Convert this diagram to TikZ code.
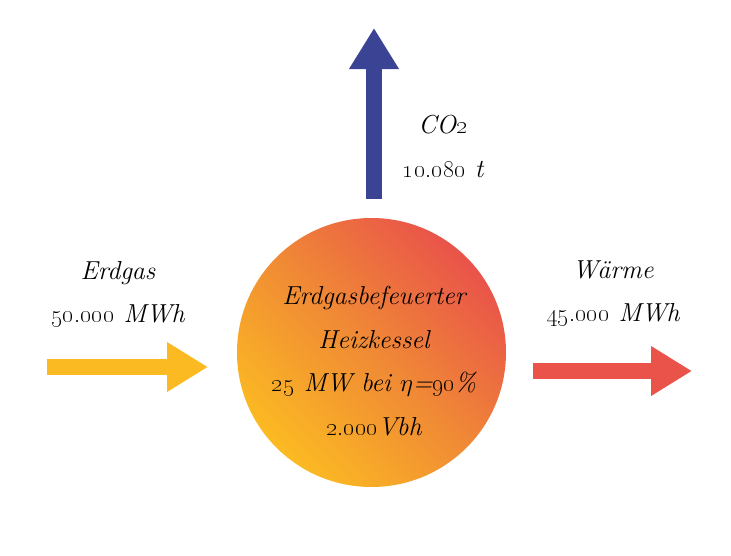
\documentclass[tikz,border=0pt]{standalone}
\usepackage{tikz}
\usepackage{amsmath}
\usepackage{xcolor}
\usetikzlibrary{arrows.meta}

\definecolor{gasyellow}{HTML}{FBBA22}
\definecolor{heatred}{HTML}{E9534A}
\definecolor{flameorange}{HTML}{F08A35}
\definecolor{co2blue}{HTML}{3B4395}

\tikzset{
  flowlabel/.style={align=center,inner sep=0pt,font=\itshape\fontsize{26}{43.5}\selectfont},
  flowarrow/.style={line width=16.5pt,-{Triangle[length=41pt,width=47pt]}},
  kesselcircle/.style={circle,minimum size=269pt,inner sep=0pt,
    top color=heatred,bottom color=gasyellow,middle color=flameorange,shading angle=-45}
}

\begin{document}
\begin{tikzpicture}[x=1pt,y=-1pt]
\useasboundingbox (0,0) rectangle (731,555);
% boiler
\node[kesselcircle] (kessel) at (371.5,352.5) {};
\node[flowlabel] (kesseltxt) at (374,361) {Erdgasbefeuerter\\Heizkessel\\\oldstylenums{25} MW bei $\eta$=\oldstylenums{90}\%\\\oldstylenums{2.000}Vbh};
% flows
\coordinate (gasin) at (47,367);
\coordinate (gasend) at (208,367);
\draw[flowarrow,gasyellow] (gasin) -- (gasend);
\node[flowlabel] (gaslbl) at (118,294.5) {Erdgas\\\oldstylenums{50.000} MWh};
\coordinate (heatin) at (533,371);
\coordinate (heatend) at (692,371);
\draw[flowarrow,heatred] (heatin) -- (heatend);
\node[flowlabel] (heatlbl) at (613,293.5) {W\"arme\\\oldstylenums{45.000} MWh};
\coordinate (co2in) at (374,199);
\coordinate (co2end) at (374,28);
\draw[flowarrow,co2blue] (co2in) -- (co2end);
\node[flowlabel] (co2lbl) at (443,146.5) {CO\oldstylenums{2}\\\oldstylenums{10.080} t};
\end{tikzpicture}
\end{document}
